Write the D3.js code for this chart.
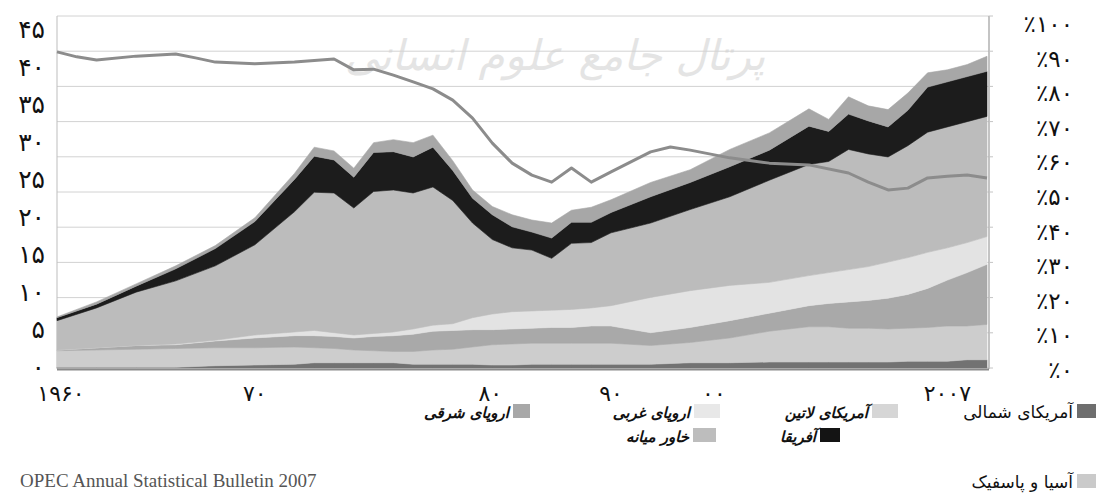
<!DOCTYPE html>
<html>
<head>
<meta charset="utf-8">
<script src="https://cdn.jsdelivr.net/npm/d3@7"></script>
<style>
body { margin: 0; background: #fff; }
</style>
</head>
<body>
<script>
// data
var years = [1960,1962,1964,1966,1968,1970,1972,1973,1974,1975,1976,1977,1978,1979,1980,1981,1982,1983,1984,1985,1986,1987,1988,1990,1992,1994,1996,1998,1999,2000,2001,2002,2003,2004,2005,2006,2007];

var northAmerica = [0.1,0.1,0.1,0.1,0.3,0.4,0.5, 0.7,0.7,0.7,0.7,0.7,0.5,0.5, 0.5,0.5,0.4,0.4,0.5,0.5,0.5,0.5,0.5, 0.5,0.7,0.7,0.8,0.8, 0.8,0.8,0.8,0.8,0.9,0.9,0.9,1.1,1.1];
var latinAmerica = [2.2,2.3,2.4,2.5,2.4,2.3,2.3, 2.0,1.9,1.7,1.6,1.5,1.7,1.9, 2.0,2.3,2.7,2.8,2.8,2.8,2.8,2.8,2.8, 2.5,2.7,3.3,4.1,4.7, 4.7,4.5,4.5,4.4,4.4,4.5,4.7,4.5,4.7];
var easternEurope = [0.1,0.3,0.5,0.5,0.9,1.3,1.5, 1.6,1.6,1.6,1.9,2.1,2.3,2.5, 2.5,2.3,2.0,2.0,2.0,2.1,2.1,2.3,2.3, 1.7,2.0,2.3,2.4,2.8, 3.1,3.5,3.7,4.1,4.5,5.2,6.1,7.1,8.0];
var westernEurope = [0,0,0,0.1,0.1,0.4,0.5, 0.7,0.5,0.4,0.4,0.5,0.7,0.8, 0.9,1.6,2.1,2.3,2.3,2.3,2.4,2.4,2.7, 4.7,4.9,4.7,4.1,4.0, 4.1,4.3,4.5,4.8,4.9,4.8,4.3,4.0,3.7];
var middleEast = [3.9,5.3,7.1,8.4,9.9,12.0,16.0, 18.4,18.6,16.9,18.9,18.9,18.1,18.4, 16.4,12.6,9.9,8.5,8.1,6.9,8.8,8.7,9.7, 9.9,10.8,11.8,13.6,14.8, 14.8,16.0,15.0,14.0,14.9,16.0,16.1,16.1,16.0];
var africa = [0.4,0.5,0.8,1.6,2.3,3.1,4.3, 4.8,4.4,4.1,5.2,5.1,4.8,5.3, 4.0,3.3,3.3,2.8,2.4,2.7,2.8,2.7,2.7, 3.5,3.6,4.0,4.0,5.1, 4.0,4.7,4.4,4.0,4.7,6.0,6.0,6.0,6.0];
var asiaPacific = [0.1,0.3,0.3,0.4,0.4,0.5,0.8, 1.2,1.2,1.2,1.3,1.6,1.9,1.6, 1.3,1.1,1.1,1.6,1.6,2.0,1.6,2.0,1.7, 1.9,1.7,2.3,2.3,2.3, 1.6,2.3,2.0,2.3,2.3,1.9,1.6,1.6,2.0];

// share line, right axis (%)
var lineYears = [1960,1961,1962,1964,1966,1967,1968,1970,1972,1974,1975,1976,1977,1978,1979,1980,1981,1982,1983,1984,1985,1986,1987,1988,1990,1991,1992,1994,1996,1998,2000,2001,2002,2003,2004,2005,2006,2007];
var lineShare = [89.8,88.4,87.5,88.6,89.2,88.1,86.9,86.4,86.9,87.8,84.7,84.9,83.2,81.3,79.3,76.1,71.0,63.9,58.2,54.8,52.8,56.8,52.8,55.7,61.4,62.8,61.9,59.7,58.2,57.7,55.4,52.8,50.6,51.1,54.0,54.5,54.8,54.0];

var leftTicks = [0,5,10,15,20,25,30,35,40,45];
var leftLabels = ["۰","۵","۱۰","۱۵","۲۰","۲۵","۳۰","۳۵","۴۰","۴۵"];
var rightTicks = [0,10,20,30,40,50,60,70,80,90,100];
var rightLabels = ["٪۰","٪۱۰","٪۲۰","٪۳۰","٪۴۰","٪۵۰","٪۶۰","٪۷۰","٪۸۰","٪۹۰","٪۱۰۰"];
var xLabels = ["۱۹۶۰","۷۰","۸۰","۹۰","۰۰","۲۰۰۷"];
var xLabelYears = [1960.2, 1970, 1981.9, 1988, 1993.2, 2005];

var keys = ["na","la","ee","we","me","af","ap"];
var names = {na:"آمریکای شمالی", la:"آمریکای لاتین", ee:"اروپای شرقی", we:"اروپای غربی", me:"خاور میانه", af:"آفریقا", ap:"آسیا و پاسفیک"};
var areaColor = {na:"#727272", la:"#cdcdcd", ee:"#a9a9a9", we:"#e3e3e3", me:"#bcbcbc", af:"#1c1c1c", ap:"#a7a7a7"};
var swatchColor = {na:"#6e6e6e", la:"#d6d6d6", ee:"#a8a8a8", we:"#e8e8e8", me:"#bdbdbd", af:"#141414", ap:"#cacaca"};

var rows = years.map(function(yr, i) {
    return {year: yr, na: northAmerica[i], la: latinAmerica[i], ee: easternEurope[i],
            we: westernEurope[i], me: middleEast[i], af: africa[i], ap: asiaPacific[i]};
});

var svg = d3.select("body").append("svg")
    .attr("width", 1096)
    .attr("height", 496);

var x = d3.scaleLinear().domain([1960, 2007]).range([57, 987]);
var y = d3.scaleLinear().domain([0, 45]).range([368, 30]);
var yPct = d3.scaleLinear().domain([0, 100]).range([368, 16]);
// the printed % labels sit on a slightly tighter spacing than the grid
var yPctLabel = d3.scaleLinear().domain([0, 100]).range([369, 23]);

// watermark
svg.append("text")
    .attr("x", 555)
    .attr("y", 70)
    .attr("text-anchor", "middle")
    .style("font-family", "DejaVu Sans")
    .style("font-style", "italic")
    .style("font-size", "42px")
    .style("fill", "#e4e4e4")
    .text("پرتال جامع علوم انسانی");

// grid
svg.append("g").selectAll("line")
    .data(rightTicks)
    .enter()
    .append("line")
    .attr("x1", 57)
    .attr("x2", 989)
    .attr("y1", function(d) { return yPct(d); })
    .attr("y2", function(d) { return yPct(d); })
    .style("stroke", "#d2d2d2")
    .style("stroke-width", 1);

svg.append("line")
    .attr("x1", 57).attr("x2", 57)
    .attr("y1", 16).attr("y2", 369)
    .style("stroke", "#bdbdbd");

svg.append("line")
    .attr("x1", 989).attr("x2", 989)
    .attr("y1", 16).attr("y2", 369)
    .style("stroke", "#b0b0b0")
    .style("stroke-width", 1.5);

// right axis ticks on the frame
svg.append("g").selectAll("line")
    .data(rightTicks)
    .enter()
    .append("line")
    .attr("x1", 989)
    .attr("x2", 993)
    .attr("y1", function(d) { return yPct(d); })
    .attr("y2", function(d) { return yPct(d); })
    .style("stroke", "#c4c4c4");

// stacked areas
var stack = d3.stack().keys(keys);
var series = stack(rows);

var area = d3.area()
    .x(function(d) { return x(d.data.year); })
    .y0(function(d) { return y(d[0]); })
    .y1(function(d) { return y(d[1]); });

svg.append("g").selectAll("path")
    .data(series)
    .enter()
    .append("path")
    .attr("d", area)
    .style("fill", function(d) { return areaColor[d.key]; })
    .style("stroke", function(d) { return areaColor[d.key]; })
    .style("stroke-width", 0.6);

// bottom axis line
svg.append("line")
    .attr("x1", 57).attr("x2", 989)
    .attr("y1", 369.5).attr("y2", 369.5)
    .style("stroke", "#8a8a8a")
    .style("stroke-width", 2);

// share line
var line = d3.line()
    .x(function(d, i) { return x(lineYears[i]); })
    .y(function(d) { return yPct(d); });

svg.append("path")
    .datum(lineShare)
    .attr("d", line)
    .style("fill", "none")
    .style("stroke", "#8c8c8c")
    .style("stroke-width", 3)
    .style("stroke-linejoin", "round");

// left labels
svg.append("g").selectAll("text")
    .data(leftTicks)
    .enter()
    .append("text")
    .attr("x", 45)
    .attr("y", function(d) { return y(d) + 8; })
    .attr("text-anchor", "end")
    .style("font-family", "DejaVu Sans")
    .style("font-size", "25px")
    .style("fill", "#111")
    .text(function(d, i) { return leftLabels[i]; });

// right labels
svg.append("g").selectAll("text")
    .data(rightTicks)
    .enter()
    .append("text")
    .attr("x", 1073)
    .attr("y", function(d) { return yPctLabel(d) + 9; })
    .attr("text-anchor", "end")
    .style("font-family", "DejaVu Sans")
    .style("font-size", "23px")
    .style("fill", "#111")
    .text(function(d, i) { return rightLabels[i]; });

// x labels
svg.append("g").selectAll("text")
    .data(xLabels)
    .enter()
    .append("text")
    .attr("x", function(d, i) { return x(xLabelYears[i]); })
    .attr("y", 401)
    .attr("text-anchor", "middle")
    .style("font-family", "DejaVu Sans")
    .style("font-size", "22px")
    .style("fill", "#111")
    .text(function(d) { return d; });

// legend
var legendPos = [
    {key: "na", sx: 1077, sw: 19, y: 404, italic: false},
    {key: "la", sx: 872, sw: 26, y: 404, italic: true},
    {key: "we", sx: 694, sw: 26, y: 404, italic: true},
    {key: "ee", sx: 513, sw: 17, y: 404, italic: true},
    {key: "af", sx: 820, sw: 20, y: 428, italic: true},
    {key: "me", sx: 693, sw: 23, y: 428, italic: true},
    {key: "ap", sx: 1077, sw: 19, y: 474, italic: false}
];

var legend = svg.append("g").selectAll("g")
    .data(legendPos)
    .enter()
    .append("g");

legend.append("rect")
    .attr("x", function(d) { return d.sx; })
    .attr("y", function(d) { return d.y; })
    .attr("width", function(d) { return d.sw; })
    .attr("height", 14)
    .style("fill", function(d) { return swatchColor[d.key]; });

legend.append("text")
    .attr("x", function(d) { return d.sx - 4; })
    .attr("y", function(d) { return d.y + 14; })
    .attr("text-anchor", "end")
    .style("font-family", "DejaVu Sans")
    .style("font-size", function(d) { return d.italic ? "15px" : "17px"; })
    .style("font-style", function(d) { return d.italic ? "italic" : "normal"; })
    .style("font-weight", function(d) { return d.italic ? "bold" : "normal"; })
    .style("fill", "#111")
    .text(function(d) { return names[d.key]; });

// source
svg.append("text")
    .attr("x", 20)
    .attr("y", 487)
    .style("font-family", "Liberation Serif")
    .style("font-size", "19px")
    .style("fill", "#555")
    .text("OPEC Annual Statistical Bulletin 2007");
</script>
</body>
</html>
